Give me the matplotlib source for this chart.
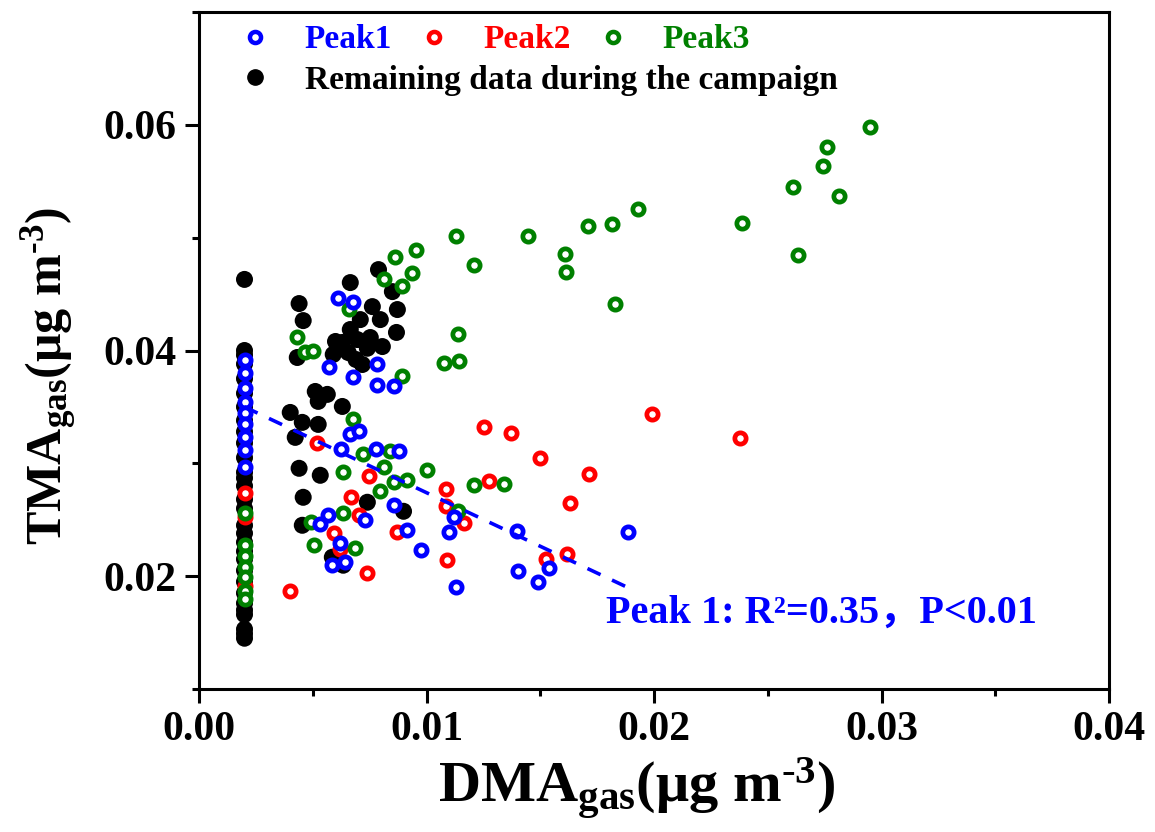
import matplotlib
matplotlib.use("Agg")
import matplotlib.pyplot as plt
from matplotlib.lines import Line2D
import numpy as np

# ---------------- data ----------------
col_x = 0.002

peak1_col_y = [0.0392, 0.0380, 0.0367, 0.0354, 0.0345, 0.0335, 0.0323, 0.0312, 0.0297]
peak1_x = [0.00612, 0.00678, 0.00573, 0.00678, 0.00784, 0.00784, 0.00855, 0.00665, 0.00705,
           0.00626, 0.00780, 0.00877, 0.00855, 0.00731, 0.00568, 0.00533, 0.00916, 0.00978,
           0.00621, 0.00643, 0.00586, 0.01885, 0.01396, 0.01119, 0.01097, 0.01401, 0.01537,
           0.01489, 0.01128]
peak1_y = [0.04469, 0.04434, 0.0385, 0.03761, 0.03876, 0.0369, 0.03681, 0.03257, 0.03283,
           0.03124, 0.03124, 0.03106, 0.02628, 0.02496, 0.0254, 0.0246, 0.02407, 0.0223,
           0.02292, 0.02124, 0.02097, 0.0239, 0.0240, 0.02522, 0.0239, 0.02044, 0.02071,
           0.01947, 0.01903]

peak2_col_y = [0.0274, 0.0252, 0.0191]
peak2_x = [0.0052, 0.00749, 0.0067, 0.00705, 0.00595, 0.00872, 0.0074, 0.00401, 0.00621,
           0.01084, 0.01084, 0.01167, 0.01088, 0.01991, 0.01251, 0.0137, 0.01498, 0.01714,
           0.01273, 0.0163, 0.01617, 0.01524, 0.02379]
peak2_y = [0.03177, 0.02885, 0.02699, 0.0254, 0.0238, 0.0239, 0.02027, 0.01867, 0.0224,
           0.0277, 0.0262, 0.02469, 0.02142, 0.03434, 0.03319, 0.03265, 0.03044, 0.02903,
           0.02841, 0.02646, 0.0220, 0.0215, 0.03221]

peak3_col_y = [0.02557, 0.02274, 0.02177, 0.0208, 0.0199, 0.01867, 0.01796]
peak3_x = [0.0295, 0.02762, 0.02744, 0.02612, 0.02811, 0.02388, 0.02634, 0.0193, 0.01815,
           0.01709, 0.01828, 0.01608, 0.01612, 0.01445, 0.01128, 0.01207, 0.01137, 0.01075,
           0.01141, 0.01207, 0.01339, 0.01137, 0.00722, 0.00841, 0.00811, 0.00634, 0.00797,
           0.00855, 0.00916, 0.0100, 0.00634, 0.00493, 0.00507, 0.00687, 0.00863, 0.00956,
           0.00811, 0.00938, 0.00894, 0.00661, 0.00432, 0.00467, 0.00502, 0.00894, 0.00678]
peak3_y = [0.0598, 0.0580, 0.05637, 0.05451, 0.05372, 0.05133, 0.0485, 0.05257, 0.05124,
           0.05106, 0.04416, 0.04858, 0.04699, 0.05018, 0.05018, 0.04761, 0.0415, 0.03885,
           0.03903, 0.02805, 0.02814, 0.02575, 0.0308, 0.03106, 0.02965, 0.0292, 0.02752,
           0.02832, 0.0285, 0.02938, 0.02558, 0.02478, 0.02274, 0.02248, 0.04832, 0.04894,
           0.04637, 0.0469, 0.04575, 0.04372, 0.04124, 0.03991, 0.0400, 0.0377, 0.0339]

rest_col_y = [0.0463, 0.0400, 0.0396, 0.0388, 0.0375, 0.0362, 0.0350, 0.0338, 0.0328, 0.0318,
              0.0305, 0.0292, 0.0287, 0.0280, 0.0268, 0.0260, 0.0245, 0.0238, 0.0230, 0.0222,
              0.0215, 0.0205, 0.0195, 0.0185, 0.0176, 0.0170, 0.0166, 0.0153, 0.0149, 0.0145]
rest_x = [0.00789, 0.00665, 0.0044, 0.00458, 0.0085, 0.00872, 0.00868, 0.00762, 0.00797,
          0.00709, 0.00665, 0.0063, 0.00696, 0.00753, 0.00806, 0.0059, 0.00656, 0.00718,
          0.00432, 0.00511, 0.00564, 0.00524, 0.0063, 0.00401, 0.00454, 0.00524, 0.00423,
          0.0044, 0.00533, 0.00458, 0.0074, 0.00899, 0.00454, 0.00586, 0.00634,
          0.0074, 0.0069, 0.0060]
rest_y = [0.04717, 0.04602, 0.04416, 0.04265, 0.04522, 0.04363, 0.0416, 0.04389, 0.04274,
          0.04274, 0.04186, 0.04071, 0.04097, 0.04115, 0.04035, 0.03965, 0.03982, 0.03876,
          0.03938, 0.03637, 0.03611, 0.03549, 0.03504, 0.03451, 0.03363, 0.03345, 0.0323,
          0.02956, 0.02894, 0.02699, 0.02655, 0.02575, 0.02451, 0.02168, 0.02097,
          0.0402, 0.0392, 0.0408]

fit_intercept = 0.0369
fit_slope = -0.95
fit_xrange = [0.002, 0.019]

labels = ["Peak1", "Peak2", "Peak3", "Remaining data during the campaign"]
colors = ["#0000FF", "#FF0000", "#008000", "#000000"]
x_ticks = [0.00, 0.01, 0.02, 0.03, 0.04]
y_ticks = [0.02, 0.04, 0.06]
annot = "Peak 1: R\u00b2=0.35\uff0cP<0.01"

# ---------------- style ----------------
plt.rcParams['font.family'] = ['Liberation Serif', 'Noto Sans CJK SC']
plt.rcParams['font.weight'] = 'bold'
plt.rcParams['mathtext.fontset'] = 'custom'
plt.rcParams['mathtext.rm'] = 'Liberation Serif:bold'
plt.rcParams['mathtext.it'] = 'Liberation Serif:italic:bold'
plt.rcParams['mathtext.bf'] = 'Liberation Serif:bold'
plt.rcParams['mathtext.default'] = 'rm'

fig = plt.figure(figsize=(11.55, 8.32), dpi=100)
ax = fig.add_axes([199/1155, 1 - 689/832, (1109-199)/1155, (689-12)/832])

ring_s = 66
ring_lw = 3.4
dot_s = 150

def col(n):
    return [col_x] * n

ax.scatter(col(len(rest_col_y)) + rest_x, rest_col_y + rest_y, s=dot_s, c=colors[3],
           edgecolors='none', zorder=2)
ax.scatter(col(len(peak2_col_y)) + peak2_x, peak2_col_y + peak2_y, s=ring_s, facecolors='white',
           edgecolors=colors[1], linewidths=ring_lw, zorder=3)
ax.scatter(col(len(peak3_col_y)) + peak3_x, peak3_col_y + peak3_y, s=ring_s, facecolors='white',
           edgecolors=colors[2], linewidths=ring_lw, zorder=4)
ax.scatter(col(len(peak1_col_y)) + peak1_x, peak1_col_y + peak1_y, s=ring_s, facecolors='white',
           edgecolors=colors[0], linewidths=ring_lw, zorder=5)

fx = np.array(fit_xrange)
ax.plot(fx, fit_intercept + fit_slope * fx, color=colors[0], lw=2.6, ls=(0, (4, 3.5)), zorder=6)

ax.text(0.01789, 0.0159, annot, color=colors[0], fontsize=29, fontweight='bold',
        va='baseline', ha='left', family=['Liberation Serif', 'Noto Sans CJK SC'])

ax.set_xlim(0, 0.04)
ax.set_ylim(0.01, 0.07)
ax.set_xticks(x_ticks)
ax.set_xticklabels([f"{v:.2f}" for v in x_ticks])
ax.set_xticks([0.005, 0.015, 0.025, 0.035], minor=True)
ax.set_yticks(y_ticks)
ax.set_yticklabels([f"{v:.2f}" for v in y_ticks])
ax.set_yticks([0.01, 0.03, 0.05, 0.07], minor=True)

for sp in ax.spines.values():
    sp.set_linewidth(2.2)
ax.tick_params(which='major', direction='out', length=10, width=2.2, labelsize=30, pad=6)
ax.tick_params(which='minor', direction='out', length=5, width=2.2)
ax.tick_params(top=False, right=False, which='both')
for lab in ax.get_xticklabels() + ax.get_yticklabels():
    lab.set_fontweight('bold')

ax.set_xlabel(r"DMA$_{\rm gas}$(μg m$^{\text{-3}}$)", fontsize=42, fontweight='bold')
ax.set_ylabel(r"TMA$_{\rm gas}$(μg m$^{\text{-3}}$)", fontsize=36, fontweight='bold')
ax.xaxis.set_label_coords(0.481, -0.098)
ax.yaxis.set_label_coords(-0.131, 0.462)

# legends
h = [Line2D([], [], ls='none', marker='o', ms=8, mfc='white', mec=colors[i], mew=3.2)
     for i in range(3)]
leg1 = ax.legend(h, labels[:3], ncol=3, loc='center left', bbox_to_anchor=(0.043, 0.959),
                 frameon=False, fontsize=24, handlelength=1.0, handletextpad=1.0,
                 columnspacing=0.75, borderpad=0, borderaxespad=0)
for t, c in zip(leg1.get_texts(), colors[:3]):
    t.set_color(c)
ax.add_artist(leg1)
h4 = [Line2D([], [], ls='none', marker='o', ms=11, mfc='black', mec='black')]
leg2 = ax.legend(h4, labels[3:], loc='center left', bbox_to_anchor=(0.043, 0.899),
                 frameon=False, fontsize=24, handlelength=1.0, handletextpad=1.0,
                 borderpad=0, borderaxespad=0)

fig.savefig("out.png", dpi=100)
